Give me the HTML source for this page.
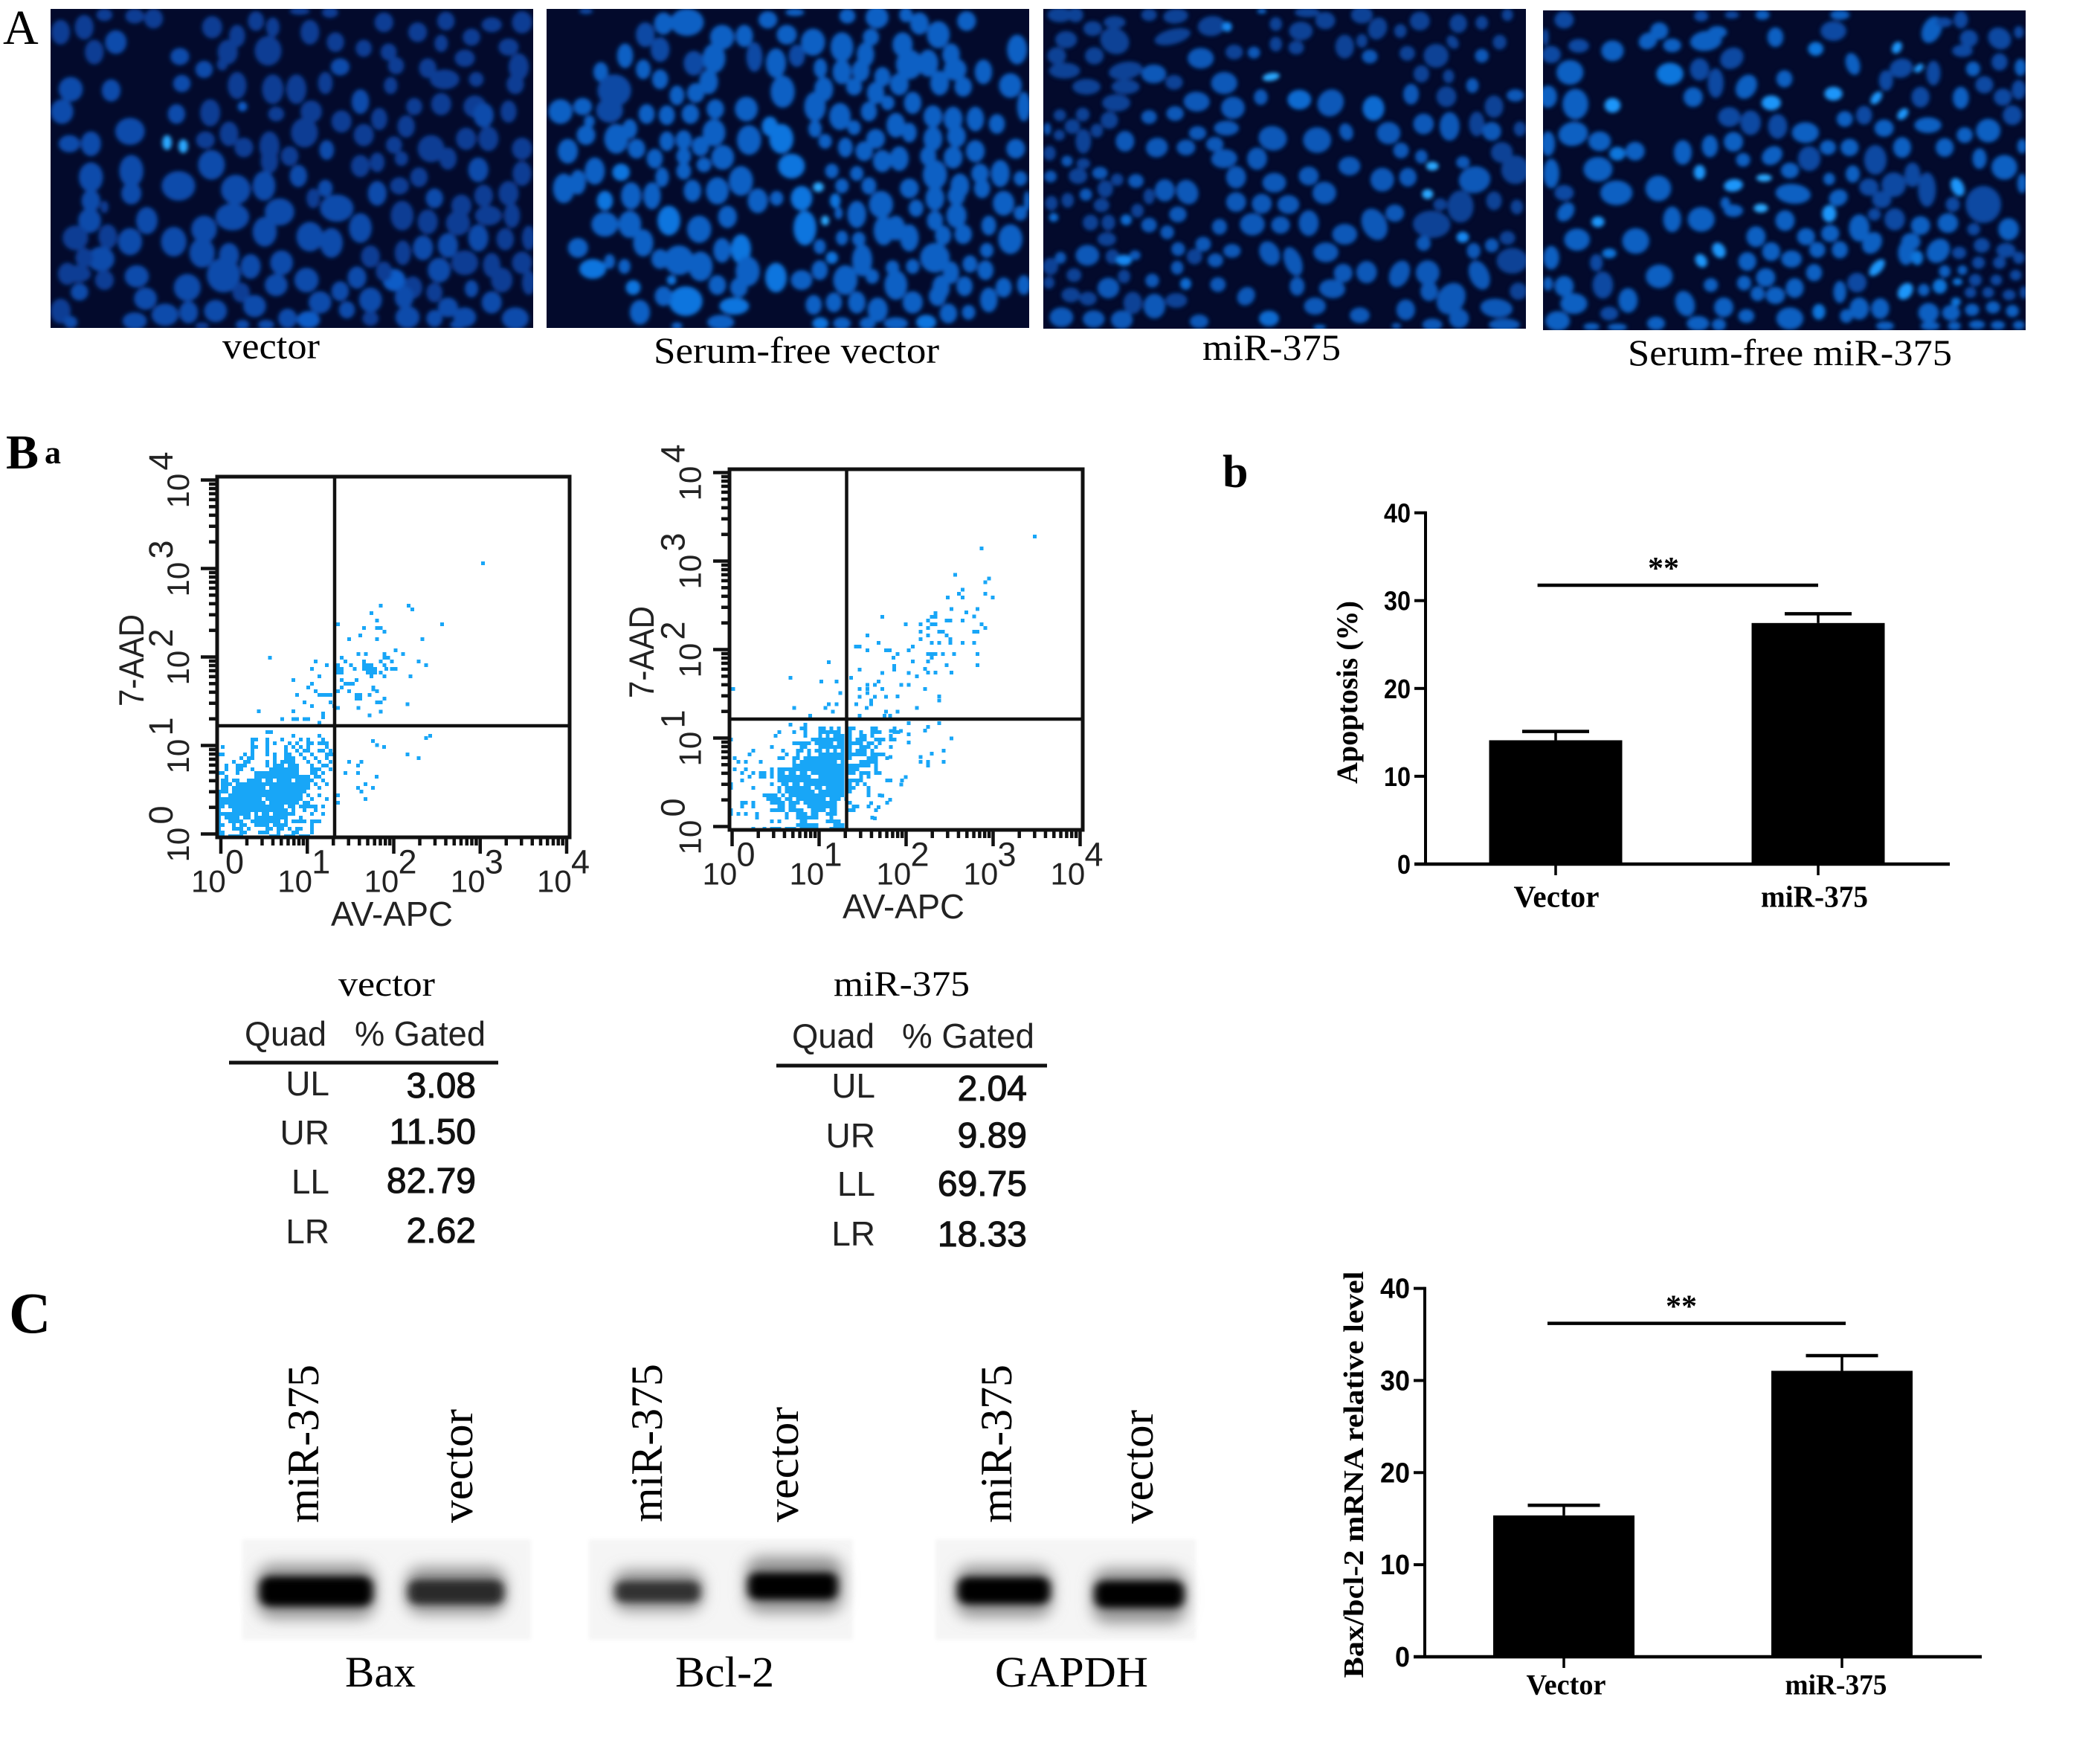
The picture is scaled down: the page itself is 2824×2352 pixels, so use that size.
<!DOCTYPE html>
<html lang="en">
<head>
<meta charset="utf-8">
<title>miR-375 apoptosis figure</title>
<style>
html,body{margin:0;padding:0;background:#fff;}
svg{display:block;}
.serif{font-family:"Liberation Serif",serif;}
.sans{font-family:"Liberation Sans",sans-serif;}
</style>
</head>
<body>
<svg id="figure" xmlns="http://www.w3.org/2000/svg" width="2824" height="2352" viewBox="0 0 2824 2352">
<defs>
<filter id="blurBand" x="-30%" y="-60%" width="160%" height="220%"><feGaussianBlur stdDeviation="6 5"/></filter>
<filter id="blurHalo" x="-30%" y="-60%" width="160%" height="220%"><feGaussianBlur stdDeviation="10 10"/></filter>
<filter id="blurBg" x="-5%" y="-10%" width="110%" height="120%"><feGaussianBlur stdDeviation="3"/></filter>
<filter id="blurN1" x="-3%" y="-3%" width="106%" height="106%"><feGaussianBlur stdDeviation="3.3 8"/></filter>
<filter id="blurN2" x="-3%" y="-3%" width="106%" height="106%"><feGaussianBlur stdDeviation="6.5 8"/></filter>
<clipPath id="clipP1"><rect x="68" y="12" width="649" height="429"/></clipPath>
<clipPath id="clipP2"><rect x="735" y="12" width="649" height="429"/></clipPath>
<clipPath id="clipP3"><rect x="1403" y="12" width="649" height="430"/></clipPath>
<clipPath id="clipP4"><rect x="2075" y="14" width="649" height="430"/></clipPath>
</defs>

<g id="micrographs"></g>

<g class="serif" fill="#000">
<text x="4" y="59" font-size="66">A</text>
<text x="299" y="482" font-size="50" textLength="131" lengthAdjust="spacingAndGlyphs">vector</text>
<text x="879" y="488" font-size="50" textLength="384" lengthAdjust="spacingAndGlyphs">Serum-free vector</text>
<text x="1617" y="484" font-size="50" textLength="186" lengthAdjust="spacingAndGlyphs">miR-375</text>
<text x="2189" y="491" font-size="50" textLength="436" lengthAdjust="spacingAndGlyphs">Serum-free miR-375</text>
<text x="8" y="630" font-size="66" font-weight="bold">B</text>
<text x="60" y="623" font-size="44" font-weight="bold">a</text>
<text x="1644" y="655" font-size="62" font-weight="bold">b</text>
<text x="12" y="1792" font-size="78" font-weight="bold">C</text>
</g>

<g id="scatterLayer"></g>

<g>
<text class="serif" x="455" y="1339" font-size="48" textLength="130" lengthAdjust="spacingAndGlyphs">vector</text>
<g class="sans" fill="#222" font-size="46">
<text x="329" y="1406" textLength="110" lengthAdjust="spacingAndGlyphs">Quad</text>
<text x="477" y="1406" textLength="176" lengthAdjust="spacingAndGlyphs">% Gated</text>
<text x="443" y="1473" text-anchor="end">UL</text>
<text x="443" y="1539" text-anchor="end">UR</text>
<text x="443" y="1605" text-anchor="end">LL</text>
<text x="443" y="1672" text-anchor="end">LR</text>
</g>
<rect x="308" y="1426.5" width="362" height="5" fill="#111"/>
<g class="sans" fill="#111" stroke="#111" stroke-width="1.1" font-size="48" text-anchor="end">
<text x="640" y="1476">3.08</text>
<text x="640" y="1538">11.50</text>
<text x="640" y="1604">82.79</text>
<text x="640" y="1671">2.62</text>
</g>
</g>

<g>
<text class="serif" x="1121" y="1339" font-size="48" textLength="183" lengthAdjust="spacingAndGlyphs">miR-375</text>
<g class="sans" fill="#222" font-size="46">
<text x="1065" y="1409" textLength="111" lengthAdjust="spacingAndGlyphs">Quad</text>
<text x="1213" y="1409" textLength="178" lengthAdjust="spacingAndGlyphs">% Gated</text>
<text x="1177" y="1476" text-anchor="end">UL</text>
<text x="1177" y="1543" text-anchor="end">UR</text>
<text x="1177" y="1608" text-anchor="end">LL</text>
<text x="1177" y="1675" text-anchor="end">LR</text>
</g>
<rect x="1044" y="1430.5" width="364" height="5" fill="#111"/>
<g class="sans" fill="#111" stroke="#111" stroke-width="1.1" font-size="48" text-anchor="end">
<text x="1381" y="1480">2.04</text>
<text x="1381" y="1543">9.89</text>
<text x="1381" y="1608">69.75</text>
<text x="1381" y="1676">18.33</text>
</g>
</g>

<g>
<g filter="url(#blurBg)" fill="#f5f5f5">
<rect x="326" y="2070" width="388" height="135"/>
<rect x="792" y="2070" width="355" height="135"/>
<rect x="1258" y="2070" width="350" height="135"/>
</g>
<g filter="url(#blurHalo)" fill="#8f8f8f">
<rect x="345" y="2104" width="160" height="72" rx="22"/>
<rect x="546" y="2108" width="134" height="62" rx="20"/>
<rect x="825" y="2112" width="120" height="54" rx="18"/>
<rect x="1003" y="2094" width="130" height="74" rx="20"/>
<rect x="1285" y="2106" width="130" height="68" rx="20"/>
<rect x="1469" y="2110" width="126" height="72" rx="20"/>
</g>
<g filter="url(#blurBand)">
<rect x="349" y="2120" width="152" height="40" rx="14" fill="#000"/>
<rect x="549" y="2125" width="128" height="32" rx="12" fill="#2a2a2a"/>
<rect x="828" y="2127" width="113" height="27" rx="10" fill="#303030"/>
<rect x="1006" y="2115" width="120" height="36" rx="12" fill="#000"/>
<rect x="1288" y="2121" width="124" height="36" rx="13" fill="#000"/>
<rect x="1472" y="2126" width="120" height="36" rx="13" fill="#000"/>
</g>
<g class="serif" fill="#000" font-size="60">
<text transform="translate(428,2048) rotate(-90)" textLength="213" lengthAdjust="spacingAndGlyphs">miR-375</text>
<text transform="translate(635,2048) rotate(-90)" textLength="153" lengthAdjust="spacingAndGlyphs">vector</text>
<text transform="translate(890,2047) rotate(-90)" textLength="213" lengthAdjust="spacingAndGlyphs">miR-375</text>
<text transform="translate(1073,2047) rotate(-90)" textLength="155" lengthAdjust="spacingAndGlyphs">vector</text>
<text transform="translate(1360,2048) rotate(-90)" textLength="213" lengthAdjust="spacingAndGlyphs">miR-375</text>
<text transform="translate(1550,2049) rotate(-90)" textLength="153" lengthAdjust="spacingAndGlyphs">vector</text>
</g>
<g class="serif" fill="#000" font-size="58">
<text x="464" y="2268" textLength="95" lengthAdjust="spacingAndGlyphs">Bax</text>
<text x="908" y="2268" textLength="133" lengthAdjust="spacingAndGlyphs">Bcl-2</text>
<text x="1338" y="2268" textLength="206" lengthAdjust="spacingAndGlyphs">GAPDH</text>
</g>
</g>

<g id="barLayer"></g>
</svg>

<script>
/* ---------- bar chart data ---------- */
const barCategories = ['Vector', 'miR-375'];
const yTickValues = [0, 10, 20, 30, 40];
const apoptosisValues = [14.1, 27.45];
const apoptosisErrors = [1.0, 1.05];
const apoptosisSignificance = [31.75];
const mrnaValues = [15.35, 31.05];
const mrnaErrors = [1.1, 1.65];
const mrnaSignificance = [36.2];

/* ---------- flow cytometry data: binned instrument channels ---------- */
const logDecades = [0, 1, 2, 3, 4];
const logMinors = [2, 3, 4, 5, 6, 7, 8, 9];
/* sparse events [xChannel, yChannel] */
const vectorEvents = [[71,73.4],[60,57],[51,62],[52,61],[43.5,62],[41,60],[42.5,58],[39,56],[42.5,56],[43.5,56],[44.5,55],[38,54],[35,53],[42.5,53],[54.7,53],[32,57],[47.5,50],[49.5,49],[37.5,49],[39.5,49],[44.5,49],[13.7,48],[39,47],[39,46],[40,46],[41,46],[39,45],[40,45],[41,45],[42,45],[40,44],[41,44],[42,44],[41,43],[44.5,48],[45.5,48],[43.5,47],[46.5,47],[44.5,46],[45,45],[46.5,45],[47.5,45],[43.5,44],[44.5,43],[53.7,47],[55.7,46],[51.5,43],[26,47],[29,46],[25,45],[33,48],[34,47],[32,46],[32,45],[33,45],[32,44],[33,44],[35.5,46],[36.5,45],[27,43],[20,42],[25,41],[24,40],[26,39],[27,38],[28,38],[29,38],[30,38],[21,38],[30,36],[23,36],[25,35],[31,35],[10.7,33.6],[20,33.6],[28,33],[28,32],[17,31.5],[20,31.5],[21,31.5],[23,31.5],[24,31.5],[27,30.5],[32,39],[33,40],[34,41],[35,41],[36,41],[37,42],[35,39],[37,38],[38,38],[37,37],[38,37],[33,42],[41.5,40],[42.5,39],[41.5,39.5],[40.5,38],[44.5,37],[43.5,36],[42.5,36],[37.5,34.5],[32,34.5],[50.7,35.5],[43.5,33.5],[40.5,32.5],[41.4,25.6],[42.5,24.5],[44.4,24],[56.8,27],[55.7,26.4],[50.7,22],[53.7,21],[35,20],[38.3,20],[37.4,19],[34,17],[37.4,17],[42.4,16],[39.4,14],[37.4,13],[41.4,13],[38.3,12],[39.4,10],[32,11],[32,9]];
/* dense gate: [yChannel, xStart, xEnd, xStart, xEnd, ...] */
const vectorRuns = [
[28,13,14],[27,20,20,27,27],[26,9,10,13,13,17,17,22,22,24,24,28,28],[25,9,9,13,13,15,15,19,19,21,21,24,25,27,29],
[24,1,1,9,10,13,13,18,18,20,20,22,22,24,24,29,29],[23,9,9,13,13,18,18,21,21,23,24,27,28,30,30],
[22,0,1,7,7,9,9,13,13,15,15,18,19,22,22,25,25,29,31],[21,6,6,8,9,15,15,18,20,23,23,26,26,29,29],
[20,4,4,7,8,13,13,15,15,17,20,24,24,27,27,30,30],[19,2,2,5,7,13,13,15,17,19,21,25,25,28,29],
[18,2,2,5,6,9,9,14,21,25,27,30,30],[17,0,1,5,5,10,21,25,26,28,28],[16,2,2,10,24,26,27],
[15,1,2,4,5,8,11,13,14,16,19,21,25,28,28],[14,1,3,5,6,7,24,26,26,29,29],[13,1,2,4,5,6,12,14,24,27,27],
[12,0,2,4,23],[11,0,0,3,22,24,24,27,27,32,32],[10,0,11,13,22,25,25,29,29],[9,0,12,14,21,23,24],
[8,0,1,3,17,19,20,22,26,28,28],[7,0,0,4,18,20,20,23,23,26,26],[6,0,3,4,8,10,10,12,13,15,20,25,25,28,28],
[5,0,0,2,5,7,8,10,18,22,22],[4,0,0,3,6,9,16,18,18,20,23,25,27],[3,0,1,4,4,6,7,10,13,15,18,25,25],
[2,0,0,4,6,8,8,13,14,16,17,19,19,21,22,25,25],[1,0,1,6,7,11,13,16,16,20,21,25,25],[0,0,1,3,6,14,16,18,20,22,24]
];
const mirEvents = [[81.7,78.6],[67.4,75.4],[60.3,68.3],[69.4,67.3],[68.4,66.3],[62.3,64.3],[61.3,63.2],[62.3,62.2],[68.4,63.2],[70.4,62.2],[58.3,62.2],[59.3,59.1],[66.3,59.1],[63.3,58.2],[65.4,57.1],[62.3,56],[55,58],[54,57],[53,56],[58,56],[59,56],[55,57],[67.4,55],[68.4,54],[65.4,53],[66.3,53],[51,55],[51,53],[51,51],[53,54],[53,52],[54,55],[55,55],[56,53],[57,53],[58,52],[59,51],[59,50],[54,50],[56,50],[62.3,50],[65.4,50],[40.7,57],[47,55],[36.7,52],[39.7,50],[33.6,49],[34.6,49],[36.7,48],[41.7,48],[42.7,48],[44.8,47],[43.7,46],[47.8,48],[48.9,49],[54,47],[53,47],[55,47],[54,46],[53,45],[57,47],[60,47],[66.3,47],[66.3,44],[48.9,45],[52.2,43],[53,42],[55,42],[58,44],[59.3,42],[26.3,44.8],[43.9,43.8],[43.9,42.8],[34.6,42.8],[40.7,41.9],[47.8,41.9],[50,41],[47.8,38.7],[45.8,38.7],[16,40.6],[24.3,39.6],[28.4,39.6],[32.3,40.6],[0.6,37.6],[29.4,36.5],[36.7,38.7],[36.7,37.6],[36.7,36.5],[34.6,37.6],[34.6,35.5],[38.7,38.7],[39.7,39.6],[40.7,37.6],[41.7,35.5],[38.7,35.5],[37.7,34.5],[37.7,33.5],[44.8,35.6],[52.2,37.6],[56,35.6],[56,34.5],[26.3,33.5],[25.4,32.5],[28.4,33.5],[27.4,31.5],[17,32.5],[21.3,30.4],[33.7,33.5],[36.5,32.5],[50,32.5],[44.8,31.5],[41.3,30.4],[42.8,30.4],[41.7,31.5],[34.6,30.4],[47.8,28.4],[56,28.4],[53,27.4],[52.2,26.4],[47.8,25.4],[47.8,23.2],[59.3,24.3],[43,26.3],[45.7,26.3],[57.2,21],[54,20.2],[51,19.3],[51,18],[53,18],[53,17],[57.2,18],[42.9,19.3],[47,13.9],[45.8,11.9],[42.9,13],[40.7,8.9],[42.8,7.8],[39.7,5.8],[37.7,6.9],[38.7,2.8]];
const mirRuns = [
[28,16,16,20,20],[27,19,20,24,25,27,27,29,29,32,33,38,39,44,44],[26,13,13,17,17,20,20,24,29,32,32,35,35,38,40,44,45],
[25,12,12,20,20,24,24,26,26,28,30,32,32,35,36,38,38,43,43],[24,0,0,22,30,32,32,34,36,39,41,43,44],
[23,17,21,23,27,29,30,32,35,37,38,40,40],[22,11,11,19,20,24,30,32,32,35,37,39,39,43,43],
[21,6,6,14,14,18,19,21,21,23,24,26,26,28,28,30,30,32,32,34,36,38,38],[20,5,5,15,15,18,18,21,21,24,30,32,36,38,41],
[19,1,1,13,14,17,18,20,30,32,32,37,39,42,42],[18,2,2,4,4,8,8,17,17,19,28,30,30,35,39],[17,17,30,32,37,39,39],
[16,1,1,4,4,11,11,13,30,32,34,39,39],[15,3,3,6,6,8,9,11,11,13,14,16,17,19,20,22,30,32,33,35,37,39,40],
[14,5,5,8,9,11,11,13,21,24,30,35,35,37,37],[13,3,3,13,30,32,35,42,42,46,46],
[12,0,0,11,11,14,15,17,18,20,30,32,32,34,34,36,36],[11,0,0,6,6,13,13,15,21,23,24,26,30,32,33,37,37],
[10,13,13,15,22,24,30,32,32,37,37],[9,9,12,14,14,16,30,37,37,40,40],[8,10,13,15,16,18,25,27,29,31,31],
[7,3,4,6,6,11,14,16,18,20,28,32,32,42,42],[6,3,3,6,6,13,14,16,17,21,28,33,34,37,37],
[5,0,0,11,14,16,19,22,25,27,28,32,33,39,39],[4,0,0,2,2,4,4,7,7,15,15,18,20,22,23,26,28],
[3,7,7,15,15,18,23,27,27,38,38],[2,11,11,13,13,19,20,26,29],[1,18,23,28,30],[0,6,6,9,9,11,13,15,17,19,23,27,30]
];

/* ---------- micrograph nuclei: [x,y,rx,ry,brightness,angle] ---------- */
const nucleiVector = [[90,130,14,50,0],[125,110,14,50,0],[155,60,12,25,0],[200,65,14,30,0],[228,75,14,40,0],[172,170,16,48,1],[140,210,14,50,0],[267,228,14,35,1],[315,110,15,45,0],[352,145,12,45,0],[380,85,12,40,0],[405,110,10,40,0],[338,210,15,50,0],[398,205,20,60,0],[445,45,15,15,0],[460,130,14,50,0],[498,170,13,40,0],[490,50,12,22,0],[540,195,12,35,0],[570,90,14,40,0],[620,130,14,40,0],[662,85,13,38,0],[730,100,15,30,0],[700,150,13,35,0],[655,175,10,35,0],[775,90,15,45,0],[577,210,12,35,0],[690,235,15,35,0],[755,190,15,35,0],[770,270,15,55,0],[303,280,13,35,1],[270,337,13,35,1],[330,260,8,25,0],[505,270,14,35,1],[588,265,12,35,0],[635,275,13,40,0],[105,360,18,50,1],[165,365,14,45,1],[352,345,14,55,0],[405,360,16,60,0],[440,360,15,60,0],[483,335,11,45,0],[580,345,10,35,0],[660,320,22,40,0],[707,320,11,30,0],[765,340,13,40,0],[535,410,13,50,1],[92,450,17,50,1],[262,460,13,40,1],[312,455,15,55,0],[360,430,7,20,2],[410,460,12,30,0],[462,450,16,45,0],[507,490,15,45,0],[563,480,12,45,0],[615,430,12,35,0],[655,420,15,45,0],[705,430,17,45,0],[718,465,15,50,1],[755,450,12,45,0],[193,530,22,55,1],[248,575,7,30,3],[272,590,7,28,3],[103,580,16,35,1],[135,580,15,50,1],[305,565,14,35,0],[340,540,14,50,0],[362,595,14,40,0],[400,590,15,60,0],[452,535,20,60,0],[485,605,11,40,1],[540,545,15,45,0],[603,510,13,45,0],[585,585,12,35,0],[640,600,20,55,0],[692,560,15,45,0],[725,560,15,50,0],[775,600,15,45,0],[314,665,20,60,1],[135,715,18,60,1],[195,690,18,65,1],[265,750,25,60,1],[430,630,13,40,0],[400,650,13,50,0],[443,710,13,45,1],[535,670,14,45,0],[560,655,11,40,0],[622,715,13,40,0],[596,640,10,30,0],[665,640,13,45,0],[710,685,15,50,1],[775,700,14,50,0],[350,765,22,60,1],[392,750,17,60,1],[483,760,11,35,1],[593,750,14,35,0],[560,780,14,50,1],[645,800,13,40,1],[685,830,15,45,0],[718,790,14,45,0],[755,780,15,50,0],[195,780,15,45,1],[135,810,14,45,1],[155,835,6,25,0],[415,855,22,55,1],[500,840,25,55,1],[465,800,10,40,0],[345,875,25,55,1],[133,890,17,50,1],[218,890,16,55,1],[597,870,17,60,0],[635,895,15,50,0],[680,900,18,50,0],[725,870,20,40,0],[760,870,12,50,0],[303,925,19,55,1],[535,920,17,60,1],[393,935,18,60,1],[460,955,20,60,1],[112,960,19,50,0],[160,955,14,50,0],[193,975,18,55,1],[258,975,19,60,1],[492,980,17,60,1],[710,960,15,55,1],[628,1000,15,50,1],[665,990,15,50,1],[750,965,13,45,0],[785,960,10,50,0],[598,1020,12,50,0],[550,1035,14,45,0],[300,1020,19,60,1],[340,1030,15,50,1],[150,1045,20,50,1],[125,1040,13,40,0],[418,1060,17,50,1],[690,1060,20,50,0],[730,1070,13,50,0],[775,1060,15,45,0],[372,1075,15,50,1],[585,1130,17,45,2],[652,1090,17,50,1],[530,1120,14,45,1],[570,1095,12,40,0],[745,1130,16,50,0],[100,1105,14,45,0],[203,1115,18,45,1],[115,1105,20,35,0],[332,1110,25,70,1],[455,1130,18,50,1],[410,1150,17,45,1],[278,1160,20,55,1],[155,1130,14,40,0],[118,1178,13,35,1],[358,1180,13,40,0],[505,1175,13,40,1],[700,1165,10,35,1],[613,1160,14,45,0],[645,1180,12,40,0],[785,1140,10,50,0],[216,1205,17,45,1],[378,1235,17,45,1],[475,1220,17,45,1],[550,1210,17,50,1],[600,1200,14,45,1],[730,1220,15,45,1],[665,1240,15,40,1],[515,1250,12,35,1],[90,1255,15,50,0],[245,1270,20,45,1],[280,1260,14,45,1],[320,1255,17,45,1],[200,1295,18,35,1],[360,1310,10,20,1],[427,1285,14,40,1],[458,1290,17,35,2],[550,1285,12,30,0],[605,1280,18,45,1],[645,1285,12,35,1],[690,1280,17,40,1],[765,1285,20,45,1],[105,1300,10,25,1],[395,1310,12,20,1],[680,1310,12,18,1],[300,1315,10,15,0]];
const nucleiSerumVector = [[870,45,10,12,0],[1020,90,25,55,1],[985,95,14,45,1],[958,140,14,50,0],[928,225,12,50,1],[1072,150,18,50,1],[1105,145,13,45,1],[1140,80,14,35,1],[1168,140,15,40,1],[1180,50,14,15,1],[1258,65,12,30,1],[1302,70,17,45,1],[1345,60,10,30,1],[1365,95,14,45,1],[1435,85,14,40,1],[1393,140,17,55,1],[1340,180,15,50,1],[1293,150,12,35,1],[1207,170,18,55,1],[1250,190,17,60,1],[1285,220,13,50,1],[1120,230,12,60,0],[1060,235,17,60,1],[1030,255,15,50,0],[1152,255,15,60,1],[1183,225,12,45,0],[980,200,14,50,0],[1412,220,13,45,1],[1510,200,15,60,1],[1350,260,20,60,1],[1378,255,15,55,1],[1418,280,17,45,1],[892,290,11,40,1],[955,280,11,40,1],[980,320,12,40,1],[1052,330,14,50,1],[1218,275,10,40,1],[1250,290,14,50,1],[1278,285,13,45,1],[1335,340,14,45,1],[1460,290,13,50,1],[1310,310,12,40,1],[1395,335,14,50,1],[1500,345,17,50,1],[912,365,25,65,0],[1005,385,11,40,1],[1033,375,13,40,1],[1162,370,18,65,1],[1223,360,14,50,1],[1268,350,12,35,1],[1300,375,13,45,1],[1355,415,13,45,1],[1430,350,13,40,1],[1520,430,10,60,1],[832,450,18,50,1],[865,430,14,35,1],[905,445,20,50,0],[960,460,12,40,1],[990,465,12,40,1],[1025,460,13,40,1],[1062,440,13,40,1],[1108,440,17,50,1],[1210,430,16,60,1],[1247,470,16,55,1],[1290,450,12,40,1],[1318,415,10,30,1],[1385,470,14,45,1],[1415,480,14,50,1],[1448,480,13,50,1],[1480,500,12,40,1],[875,490,8,25,1],[935,520,11,40,1],[1143,510,12,40,2],[1210,520,10,35,1],[1268,515,10,30,1],[1300,560,14,40,1],[1330,505,14,50,1],[870,545,14,40,1],[915,560,18,60,1],[990,570,11,40,1],[1015,565,12,40,1],[1060,535,17,55,1],[1112,565,18,60,1],[1160,560,18,60,2],[1225,570,10,30,1],[1255,595,11,40,1],[1350,535,11,40,1],[1385,560,14,50,1],[1420,550,14,45,1],[1508,600,14,40,1],[843,610,15,50,1],[945,600,13,40,1],[1040,590,13,40,1],[1073,635,17,50,1],[1015,630,11,35,1],[972,640,12,40,1],[1283,610,13,40,1],[1310,650,14,45,1],[1335,640,14,50,1],[1378,630,12,40,1],[1415,635,14,45,1],[1448,610,14,45,1],[883,690,15,55,1],[922,695,13,35,2],[1015,690,11,35,1],[1045,665,11,30,1],[1175,670,20,50,2],[1235,690,10,30,1],[1272,700,10,30,1],[1388,705,18,60,1],[1455,700,13,40,1],[1485,700,14,55,1],[1515,720,10,30,1],[858,735,12,50,1],[837,760,16,60,1],[983,715,10,40,1],[1100,730,18,60,1],[1250,750,10,30,1],[1290,750,11,35,1],[1350,760,14,40,1],[1425,750,14,50,1],[1458,760,12,40,1],[1215,755,8,20,3],[1065,770,17,55,1],[1028,770,13,45,1],[968,790,13,55,1],[937,790,15,55,1],[1125,810,15,50,1],[1153,800,10,30,1],[1190,800,16,50,2],[898,810,12,40,2],[1240,810,8,30,2],[1308,825,18,55,1],[1388,800,14,50,1],[1420,790,13,40,1],[1490,820,16,50,1],[1525,810,5,40,1],[993,890,17,60,2],[1080,875,14,45,1],[1195,920,17,70,2],[1225,890,6,20,3],[1245,860,6,25,1],[1272,865,14,55,1],[1360,840,11,35,1],[1420,870,15,50,1],[1330,920,14,50,1],[1388,890,12,40,1],[1468,910,11,40,1],[1515,860,10,30,1],[898,905,20,50,1],[935,905,17,55,1],[1038,925,18,55,1],[1312,930,15,60,1],[1350,960,14,55,1],[1400,950,12,40,1],[1430,945,13,40,1],[1250,960,9,30,1],[1275,965,10,30,1],[1500,965,18,60,1],[955,980,15,55,1],[858,1000,15,40,1],[1217,995,9,30,1],[1100,1005,15,60,2],[1072,1010,13,50,1],[1388,1040,22,60,1],[1465,1010,10,30,1],[1280,1050,15,65,1],[1235,1040,9,25,2],[1325,1080,10,30,1],[1008,1050,22,60,1],[980,1045,13,40,1],[1040,1075,18,60,1],[1355,1075,10,30,1],[1440,1065,11,35,1],[1412,1100,12,45,1],[1463,1090,12,40,1],[880,1085,20,40,2],[905,1055,8,30,1],[927,1075,9,30,1],[1110,1095,18,60,1],[1152,1120,16,60,2],[1190,1130,16,40,1],[1217,1090,12,40,1],[1255,1130,18,60,1],[1295,1115,10,30,1],[1330,1150,17,60,1],[1432,1155,12,40,1],[1397,1160,13,50,1],[1490,1160,12,40,1],[1520,1150,10,40,1],[1065,1150,13,40,1],[1097,1160,13,40,1],[997,1130,7,20,2],[940,1160,11,30,2],[1018,1215,25,60,2],[985,1195,13,40,1],[1090,1235,22,35,2],[950,1260,15,50,1],[1208,1230,12,40,1],[1238,1220,12,40,1],[1272,1220,13,45,1],[1303,1250,15,50,1],[1355,1220,15,45,1],[1392,1195,13,40,1],[1468,1210,13,50,1],[1438,1260,10,30,1],[1408,1265,13,40,1],[1375,1300,15,30,2],[1070,1300,20,30,1],[1005,1315,8,15,1],[1218,1305,12,25,2],[1250,1305,13,25,1],[1288,1305,12,25,1],[1330,1305,18,25,1]];
const nucleiMir = [[60,60,40,30,0],[110,60,25,30,0],[165,115,30,30,0],[235,90,35,25,0],[235,165,45,55,0,-20],[80,160,35,35,0],[170,225,30,35,0],[50,225,30,35,0],[75,285,50,32,0],[145,350,45,32,0],[270,285,55,35,0,-15],[360,298,40,38,1],[270,350,45,30,0],[425,332,28,30,0],[345,60,25,25,0],[430,65,40,30,0,-10],[420,148,60,30,0,-20],[545,105,45,40,0,-20],[595,108,15,20,3],[510,235,42,42,1],[617,210,28,30,0],[680,212,20,24,1],[585,335,42,45,1],[735,310,28,16,4,-15],[750,97,20,28,0],[750,178,20,30,0],[815,192,25,28,0],[830,125,38,38,0],[850,50,40,20,0],[908,83,32,35,0],[970,188,30,48,0],[1025,165,18,28,0],[1050,228,25,28,1],[1025,60,35,35,0],[1075,115,30,45,0,10],[1148,125,20,28,0],[1210,85,32,38,0],[1170,215,25,30,0],[1262,225,40,48,0],[1315,170,18,28,0,-20],[1333,95,28,38,0],[1408,92,20,28,0],[1490,60,18,25,0],[1465,170,22,30,0],[1408,225,22,28,1],[1215,298,25,35,0],[1302,308,18,28,0],[1378,345,20,30,1],[1182,380,25,42,1],[1295,390,32,42,0],[1515,385,28,25,1],[1447,430,30,45,0],[1222,500,33,42,1],[1305,510,32,58,1],[1392,500,25,50,0],[1440,530,30,38,1],[1530,520,20,30,0],[240,415,45,35,0],[345,472,25,28,1],[428,458,28,30,1],[497,410,42,40,1,15],[613,435,38,45,1],[702,392,22,32,1],[825,402,38,40,2],[925,415,42,55,1,10],[1062,437,35,50,2],[60,465,20,24,0],[133,462,22,28,0],[218,485,28,35,0],[100,510,25,30,0],[178,527,20,28,0],[58,545,18,22,0],[135,570,25,50,0],[268,570,30,42,1],[370,595,35,40,1,10],[463,595,30,32,1],[500,537,28,28,1],[592,517,40,30,1],[555,582,28,30,1],[740,558,45,50,1,-15],[882,565,45,52,1],[975,532,22,35,1,-10],[1110,537,38,45,1],[1150,607,25,32,1],[1215,632,20,28,1],[1250,670,20,18,4],[1472,615,35,42,0],[1348,655,22,25,1],[1515,685,45,58,0],[27,618,20,30,0],[83,650,18,22,1],[135,660,22,22,0],[585,640,42,38,1,-15],[690,640,32,45,1],[985,670,35,38,1],[1090,725,38,48,1],[1172,715,28,38,1],[1385,725,50,55,1,20],[30,712,20,24,1],[118,710,30,32,0],[188,698,25,25,1],[243,725,20,25,0],[303,730,25,28,1],[205,762,25,35,0],[623,715,32,45,1],[745,737,38,40,1],[855,710,32,38,1],[395,768,32,45,1],[467,775,35,50,1,-10],[345,792,18,32,0],[905,778,38,45,1],[1235,783,18,20,4],[143,785,20,25,1],[85,808,20,30,0],[33,820,20,30,0],[193,828,25,28,0],[623,815,32,40,1],[705,822,32,40,1],[790,825,35,38,1],[1340,833,42,65,0],[1447,810,25,38,0],[1520,835,20,30,0],[1275,825,22,25,0],[308,850,20,28,0],[437,865,28,32,1],[40,877,15,18,2],[158,898,25,32,0],[215,898,22,32,0],[272,887,18,22,2],[345,908,25,30,1],[403,937,22,28,1],[570,915,24,32,1],[675,905,40,45,1],[765,908,30,35,1],[855,900,32,52,1],[1065,905,40,65,1,-15],[1130,860,30,35,1],[970,945,40,42,1],[1248,905,60,55,0,10],[1347,957,20,22,3],[210,965,30,28,0],[1222,982,23,30,1],[1490,960,25,28,0],[1440,990,22,28,1],[1382,1012,22,32,1],[518,985,25,30,1],[438,1005,22,28,1],[610,1012,28,28,1],[490,1035,25,32,0],[557,1050,25,28,1],[148,1030,38,42,1],[62,1040,18,24,1],[228,1035,22,30,0],[265,1050,25,22,3],[300,1030,18,20,1],[730,1022,32,50,1,-15],[805,1055,28,60,1,-15],[910,1018,40,40,1],[1505,1052,50,52,0],[30,1075,25,35,0],[435,1080,20,28,1],[965,1102,30,38,1],[1040,1098,33,45,1],[1145,1105,32,55,1,15],[1235,1100,38,50,1],[1400,1110,32,60,1,-15],[105,1110,24,28,0],[265,1115,20,28,0],[355,1132,22,28,1],[462,1145,18,24,2],[565,1148,25,30,1],[818,1155,24,38,1],[930,1165,42,38,1,15],[25,1140,18,25,0],[215,1162,35,42,1],[1240,1175,28,40,1],[1525,1175,28,35,0],[655,1195,28,38,1,15],[95,1190,30,30,0],[150,1205,28,28,0],[293,1222,30,45,0],[362,1235,35,50,1],[432,1212,35,30,0],[875,1235,35,35,1],[1165,1250,30,42,1],[1310,1205,45,65,1,15],[1455,1243,52,38,1,10],[1018,1272,32,32,1],[65,1280,38,40,1],[168,1287,35,35,1],[258,1290,35,38,1],[505,1297,30,28,1],[728,1285,32,32,2],[1335,1285,32,40,1],[1250,1310,32,25,1],[1480,1310,50,25,1],[890,1320,20,10,2],[1135,1315,15,12,1],[705,45,15,10,2],[20,520,12,25,1]];
const nucleiSerumMir = [[100,80,30,35,0],[42,150,10,35,0],[145,185,32,28,0],[250,205,35,42,1],[60,220,30,35,0],[118,292,42,50,1],[50,390,28,45,1],[135,420,40,62,1],[250,425,25,30,3],[128,540,45,50,1,25],[210,570,35,40,1],[50,580,22,50,1],[265,620,25,28,2],[320,610,30,38,1],[60,700,25,60,1],[205,683,45,50,1],[100,778,30,32,0],[262,778,50,50,1,-25],[392,760,40,52,1],[105,855,25,40,1,20],[205,895,20,22,3],[435,885,28,52,1],[525,885,42,50,1],[140,967,40,45,1],[322,972,42,52,1],[60,1040,25,48,1],[240,1022,22,20,2],[200,1060,20,35,0],[395,1115,42,48,1],[220,1150,32,55,0],[100,1155,30,42,1],[130,1225,42,42,1],[298,1212,30,50,1],[50,1145,15,28,1],[80,1295,38,40,1],[240,1265,28,28,0],[385,1305,28,28,1],[185,1318,25,15,1],[265,1320,30,15,1],[360,165,28,35,1,20],[395,125,28,35,1],[435,183,28,28,1],[540,165,50,40,1,-15],[575,130,30,25,1],[620,235,35,45,0,20],[520,280,30,45,0],[428,298,42,45,2],[570,335,25,60,0],[525,65,22,22,0],[620,60,22,15,0],[715,60,22,20,1],[755,150,25,40,1],[880,197,24,28,2],[783,318,25,35,1],[665,350,32,50,1,15],[500,392,30,40,1],[742,415,30,30,3],[935,378,28,28,3],[955,60,30,20,1],[935,125,40,40,0,30],[995,258,22,45,1,-10],[1132,192,15,25,3,15],[1145,275,35,40,0,25],[1200,275,12,20,3,30],[1098,325,22,42,0],[1245,295,22,50,0],[1068,395,15,28,3,25],[1205,392,28,42,0],[1240,120,30,55,1,15],[1278,90,25,20,0],[1330,80,22,35,0],[1355,155,28,35,0],[1335,205,32,25,0],[1450,155,35,45,0,-15],[1510,130,15,25,0],[1450,250,25,35,0],[1368,278,22,30,1],[1515,272,18,35,1],[1403,342,28,35,0],[1330,395,25,45,1],[1510,362,22,40,0],[1460,392,28,35,0],[612,472,35,40,0],[678,495,32,50,0],[762,510,30,50,0],[848,535,42,42,1,35],[970,480,25,32,1],[1030,465,25,38,0],[1092,517,30,35,1],[1150,460,15,25,3,25],[1228,505,42,32,1],[1415,527,38,48,1],[1490,465,30,40,0],[1342,545,25,32,1],[1520,590,15,30,1],[468,615,28,50,1],[552,590,25,45,1],[625,572,30,40,1],[655,645,22,28,1],[745,628,30,40,1,25],[918,595,25,30,1],[985,595,28,35,1],[860,640,35,50,0],[1148,595,28,42,1],[1280,595,28,38,1],[1388,640,22,42,1],[1065,645,35,60,0],[1465,675,40,50,1],[520,695,18,30,3],[800,688,28,32,1],[720,718,24,15,4],[625,748,30,25,3,-20],[922,722,18,25,1],[995,702,22,35,1],[1180,705,25,50,0],[1225,765,28,70,0],[1320,755,20,38,3,-15],[1122,745,38,50,0],[1045,755,30,35,0],[810,782,55,40,1,10],[950,798,28,35,1,20],[1085,805,30,35,0],[1400,825,55,75,0],[1520,740,15,40,1],[600,820,15,25,1],[625,850,30,25,1],[710,840,22,18,4],[785,890,30,42,1],[1305,825,22,30,0],[922,862,22,35,3],[1062,865,20,25,0],[1015,920,32,55,1],[1125,885,32,45,0],[1205,910,30,38,1],[1290,900,32,40,1],[1370,925,20,25,0],[1478,925,32,45,1],[695,955,30,42,1],[850,955,28,35,1],[925,942,28,35,1],[1055,980,30,45,1,15],[1175,975,30,35,1],[1260,1012,35,50,1,15],[742,1015,28,38,1],[885,1008,25,32,1],[955,1008,25,35,1],[580,1010,20,32,3,-15],[525,1052,18,28,3,-15],[668,1055,28,38,1],[805,1045,32,35,1],[1160,1020,25,50,1],[1195,1040,18,30,2],[1325,1020,22,25,0],[1395,990,25,30,0],[1470,1010,30,30,0],[1070,1080,18,38,3,30],[1280,1095,18,25,1],[1335,1090,15,20,1],[1385,1060,20,25,0],[1450,1060,20,25,0],[1510,1040,18,25,0],[875,1100,25,35,1],[725,1120,30,38,1],[658,1142,22,30,1],[555,1150,22,28,1],[1008,1140,30,40,0],[1320,1137,15,15,2],[1265,1155,22,30,2],[1215,1170,18,25,1],[1158,1175,22,35,3,20],[955,1178,20,45,1],[815,1162,28,40,1],[700,1185,22,30,1],[755,1192,30,35,1],[1375,1130,20,25,0],[1440,1130,18,22,0],[1500,1110,18,22,0],[1015,1245,30,45,1],[1080,1245,28,42,1],[1360,1180,18,22,0],[1415,1180,18,22,0],[1480,1190,20,22,0],[1315,1218,15,18,2],[1525,1180,12,25,0],[475,1225,30,52,1,-10],[595,1240,30,40,1],[890,1258,20,32,2],[665,1275,25,28,1],[975,1275,20,28,1],[800,1285,42,45,1],[1230,1262,32,40,1],[1300,1262,28,32,1],[1365,1250,22,25,1],[1430,1240,22,25,1],[1490,1255,20,25,1],[515,1305,35,30,1],[580,1310,22,25,1],[1095,1315,28,18,1],[1235,1315,30,18,1],[1310,1315,20,18,1],[1380,1310,25,18,1],[1445,1312,22,18,1],[1510,1312,18,18,1]];

/* ---------- helpers ---------- */
const NS = 'http://www.w3.org/2000/svg';
function mk(tag, attrs, parent, text) {
  const el = document.createElementNS(NS, tag);
  for (const k in attrs) el.setAttribute(k, attrs[k]);
  if (text !== undefined) el.textContent = text;
  parent.appendChild(el);
  return el;
}

/* ---------- micrographs ---------- */
function drawMicrograph(layer, nuclei, p) {
  const group = mk('g', {'clip-path': 'url(#' + p.clip + ')'}, layer);
  
  
  const bg = mk('rect', {x: p.x, y: p.y, width: p.w, height: p.h, fill: p.bg}, group);
  
  
  const inner = mk('g', {transform: p.tf, filter: 'url(#' + p.blur + ')'}, group);
  nuclei.forEach(function (n) {
    const a = n[5] || 0;
    const e = mk('ellipse', {cx: n[0], cy: n[1], rx: n[2], ry: n[3], fill: p.palette[n[4]], transform: 'rotate(' + a + ' ' + n[0] + ' ' + n[1] + ')'}, inner);
    
    
  });
}
const micro = document.getElementById('micrographs');
drawMicrograph(micro, nucleiVector, {name: 'micrograph-vector', clip: 'clipP1', x: 68, y: 12, w: 649, h: 429, bg: '#030a2c', blur: 'blurN1', tf: 'scale(0.9058,0.3333)', palette: ['#0a3d94', '#0a4bab', '#0b5cc6', '#2aa8ff', '#34b0ff']});
drawMicrograph(micro, nucleiSerumVector, {name: 'micrograph-serum-free-vector', clip: 'clipP2', x: 735, y: 12, w: 649, h: 429, bg: '#030a2c', blur: 'blurN1', tf: 'scale(0.9058,0.3333)', palette: ['#0a4aa4', '#0b60c4', '#0d74de', '#2aa8ff', '#34b0ff']});
drawMicrograph(micro, nucleiMir, {name: 'micrograph-mir-375', clip: 'clipP3', x: 1403, y: 12, w: 649, h: 430, bg: '#030a2c', blur: 'blurN2', tf: 'translate(1400,0) scale(0.4209,0.3333)', palette: ['#0a4296', '#0a58b8', '#0c6ad0', '#1688f2', '#2aa8ff']});
drawMicrograph(micro, nucleiSerumMir, {name: 'micrograph-serum-free-mir-375', clip: 'clipP4', x: 2075, y: 14, w: 649, h: 430, bg: '#030a2c', blur: 'blurN2', tf: 'translate(2060,0) scale(0.4337,0.3333)', palette: ['#0a4aa2', '#0b60c2', '#0e76dc', '#1c96fa', '#2aa8ff']});

/* ---------- flow plots ---------- */
function drawFlowPlot(layer, events, runs, p) {
  const group = mk('g', {}, layer);
  
  
  const xLog = function (d) { return p.tickX0 + d * p.tickXStep; };
  const yLog = function (d) { return p.tickY0 - d * p.tickYStep; };
  const xCh = function (c) { return p.chX0 + c * p.cell; };
  const yCh = function (c) { return p.chY0 - c * p.cell; };
  const dots = mk('g', {fill: '#18a6f7'}, group);
  
  
  function dot(cx, cy) {
    const r = mk('rect', {x: xCh(cx) - p.cell / 2, y: yCh(cy) - p.cell / 2, width: p.cell, height: p.cell}, dots);
    
    
  }
  events.forEach(function (e) { dot(e[0], e[1]); });
  runs.forEach(function (row) {
    for (let i = 1; i < row.length; i += 2) {
      for (let c = row[i]; c <= row[i + 1]; c++) dot(c, row[0]);
    }
  });
  const line = function (x1, y1, x2, y2, w, name) {
    const l = mk('line', {x1: x1, y1: y1, x2: x2, y2: y2, stroke: '#111', 'stroke-width': w}, group);
    
    
  };
  const fr = mk('rect', {x: p.left, y: p.top, width: p.right - p.left, height: p.bottom - p.top, fill: 'none', stroke: '#111', 'stroke-width': 5}, group);
  
  
  line(p.gateX, p.top, p.gateX, p.bottom, 4.5, 'quadrant-gate-vertical');
  line(p.left, p.gateY, p.right, p.gateY, 4.5, 'quadrant-gate-horizontal');
  logDecades.forEach(function (d, i) {
    line(xLog(d), p.bottom, xLog(d), p.bottom + 22, 4.5, 'x-major-tick');
    line(p.left, yLog(d), p.left - 22, yLog(d), 4.5, 'y-major-tick');
    if (i < logDecades.length - 1) {
      logMinors.forEach(function (m) {
        const off = Math.log10(m);
        line(xLog(d + off), p.bottom, xLog(d + off), p.bottom + 11, 4.5, 'x-minor-tick');
        line(p.left, yLog(d + off), p.left - 11, yLog(d + off), 4.5, 'y-minor-tick');
      });
    }
    const xb = mk('text', {x: xLog(d) - 40, y: p.xLabelY, 'font-size': 42, fill: '#222', class: 'sans'}, group, '10');
    
    
    const xs = mk('text', {x: xLog(d) + 6, y: p.xLabelY - 25, 'font-size': 45, fill: '#222', class: 'sans'}, group, String(d));
    
    
    const yb = mk('text', {transform: 'translate(' + p.yLabelX + ',' + (yLog(d) + 38) + ') rotate(-90)', 'font-size': 42, fill: '#222', class: 'sans'}, group, '10');
    
    
    const ys = mk('text', {transform: 'translate(' + (p.yLabelX - 22) + ',' + (yLog(d) - 13) + ') rotate(-90)', 'font-size': 45, fill: '#222', class: 'sans'}, group, String(d));
    
    
  });
  const xt = mk('text', {x: p.xTitleX, y: p.xTitleY, 'font-size': 46, fill: '#222', class: 'sans', textLength: 164, lengthAdjust: 'spacingAndGlyphs'}, group, 'AV-APC');
  
  
  const yt = mk('text', {transform: 'translate(' + p.yTitleX + ',' + p.yTitleY + ') rotate(-90)', 'font-size': 47, fill: '#222', class: 'sans', textLength: 124, lengthAdjust: 'spacingAndGlyphs'}, group, '7-AAD');
  
  
}
const scatterLayer = document.getElementById('scatterLayer');
drawFlowPlot(scatterLayer, vectorEvents, vectorRuns, {name: 'flow-plot-vector', left: 292, right: 766, top: 641, bottom: 1126, gateX: 450, gateY: 976, tickX0: 297, tickXStep: 116.25, tickY0: 1121.5, tickYStep: 119, chX0: 294.5, chY0: 1124.5, cell: 5, xLabelY: 1199.5, yLabelX: 254, xTitleX: 445, xTitleY: 1245, yTitleX: 193, yTitleY: 950});
drawFlowPlot(scatterLayer, mirEvents, mirRuns, {name: 'flow-plot-mir-375', left: 981, right: 1456, top: 631, bottom: 1116, gateX: 1138.5, gateY: 967, tickX0: 984.5, tickXStep: 117, tickY0: 1111.5, tickYStep: 119, chX0: 983, chY0: 1114.5, cell: 5, xLabelY: 1189.5, yLabelX: 942.6, xTitleX: 1133, xTitleY: 1235, yTitleX: 879, yTitleY: 939});

/* ---------- bar charts ---------- */
function drawBarChart(layer, values, errors, sig, p) {
  const group = mk('g', {}, layer);
  
  
  const yMax = yTickValues[yTickValues.length - 1];
  const y = function (v) { return p.y0 - v / yMax * (p.y0 - p.yTop); };
  const xc = function (i) { return p.x0 + (i + 0.5) * p.step; };
  const line = function (x1, y1, x2, y2, w, name) {
    const l = mk('line', {x1: x1, y1: y1, x2: x2, y2: y2, stroke: '#000', 'stroke-width': w}, group);
    
    
  };
  barCategories.forEach(function (c, i) {
    const bar = mk('rect', {x: xc(i) - p.barW / 2, y: y(values[i]), width: p.barW, height: p.y0 - y(values[i]), fill: '#000'}, group);
    
    
    const top = y(values[i] + errors[i]);
    line(xc(i), y(values[i]), xc(i), top, 3.5, 'error-bar-stem');
    line(xc(i) - p.capW / 2, top, xc(i) + p.capW / 2, top, 4.5, 'error-bar-cap');
    line(xc(i), p.y0, xc(i), p.y0 + 15, 3.5, 'x-tick');
    const lab = mk('text', {x: xc(i) + (i === 0 ? p.labelShift0 : p.labelShift1), y: p.labelY, 'text-anchor': 'middle', 'font-size': p.labelSize, 'font-weight': 'bold', class: 'serif', fill: '#000', textLength: i === 0 ? p.labelLen0 : p.labelLen1, lengthAdjust: 'spacingAndGlyphs'}, group, c);
    
    
  });
  line(p.axisX, p.y0 + 2, p.axisX, p.yTop - 2, 4, 'y-axis');
  line(p.axisX - 15, p.y0, p.xEnd, p.y0, 4.5, 'x-axis');
  yTickValues.forEach(function (t) {
    line(p.axisX - 15, y(t), p.axisX, y(t), 4, 'y-tick');
    const lbl = String(t);
    const tl = mk('text', {x: p.axisX - 20, y: y(t) + 13, 'text-anchor': 'end', 'font-size': p.tickSize, 'font-weight': 'bold', class: 'sans', fill: '#000', textLength: lbl.length * p.tickDigitW, lengthAdjust: 'spacingAndGlyphs'}, group, lbl);
    
    
  });
  line(p.sigX1, y(sig[0]), p.sigX2, y(sig[0]), 4.5, 'significance-bar');
  const st = mk('text', {x: (p.starX), y: y(sig[0]) + p.starDy, 'text-anchor': 'middle', 'font-size': 42, 'font-weight': 'bold', class: 'serif', fill: '#000'}, group, '**');
  
  
  const yt = mk('text', {transform: 'translate(' + p.titleX + ',' + p.titleY + ') rotate(-90)', 'text-anchor': 'middle', 'font-size': p.titleSize, 'font-weight': 'bold', class: 'serif', fill: '#000', textLength: p.titleLen, lengthAdjust: 'spacingAndGlyphs'}, group, p.title);
  
  
}
const barLayer = document.getElementById('barLayer');
drawBarChart(barLayer, apoptosisValues, apoptosisErrors, apoptosisSignificance, {name: 'apoptosis-bar-chart', x0: 1915.5, step: 353, barW: 179, capW: 90, y0: 1162, yTop: 689.6, axisX: 1917, xEnd: 2622, labelY: 1219.5, labelSize: 41, labelShift0: 1, labelShift1: -5, labelLen0: 115, labelLen1: 144, tickSize: 36, tickDigitW: 18, sigX1: 2067.6, sigX2: 2445, starX: 2237, starDy: -9, title: 'Apoptosis (%)', titleX: 1825, titleY: 931, titleSize: 40, titleLen: 246});
drawBarChart(barLayer, mrnaValues, mrnaErrors, mrnaSignificance, {name: 'bax-bcl2-bar-chart', x0: 1916, step: 374, barW: 190, capW: 97, y0: 2228, yTop: 1732.6, axisX: 1916, xEnd: 2665, labelY: 2278.5, labelSize: 39, labelShift0: 3, labelShift1: -8, labelLen0: 107, labelLen1: 137, tickSize: 38, tickDigitW: 20, sigX1: 2081, sigX2: 2482, starX: 2261, starDy: -9, title: 'Bax/bcl-2 mRNA relative level', titleX: 1833, titleY: 1983, titleSize: 38, titleLen: 547});
</script>
</body>
</html>
